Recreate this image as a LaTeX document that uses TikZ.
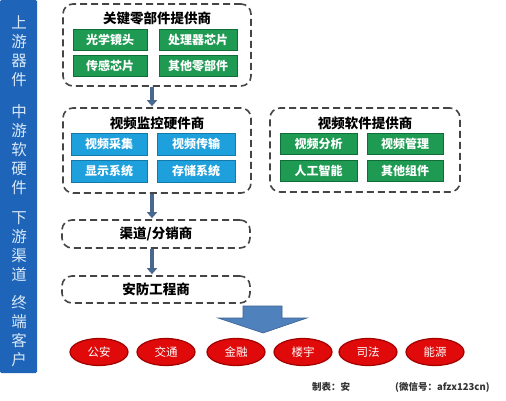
\documentclass[tikz,border=0pt]{standalone}
\usepackage{fontspec}
\newfontfamily\cjk{Noto Sans CJK SC}
\usetikzlibrary{shapes.geometric,arrows.meta,calc}
\definecolor{barblue}{HTML}{1E64B8}
\definecolor{bartext}{HTML}{D8E8F8}
\definecolor{gbox}{HTML}{1E9A52}
\definecolor{gedge}{HTML}{0F6E38}
\definecolor{bbox}{HTML}{1EA0DC}
\definecolor{bedge}{HTML}{1478A8}
\definecolor{dashc}{HTML}{454545}
\definecolor{flowc}{HTML}{4A6790}
\definecolor{bigarrow}{HTML}{4F81BD}
\definecolor{redf}{HTML}{E00A0A}
\definecolor{rede}{HTML}{A00000}
\tikzset{
  group/.style={draw=dashc, line width=1.6pt, dash pattern=on 7pt off 4pt, rounded corners=10pt, minimum width=#1, inner sep=0pt},
  title/.style={font=\cjk\bfseries\fontsize{13.5}{15}\selectfont, text=black, inner sep=0pt},
  gitem/.style={draw=gedge, fill=gbox, line width=0.8pt, text=white, font=\cjk\bfseries\fontsize{12}{14}\selectfont, minimum height=21pt, minimum width=#1, inner sep=0pt},
  bitem/.style={draw=bedge, fill=bbox, line width=0.8pt, text=white, font=\cjk\bfseries\fontsize{12}{14}\selectfont, minimum height=22pt, minimum width=#1, inner sep=0pt},
  flow/.style={draw=flowc, line width=3.5pt, -{Triangle[width=10pt,length=6pt]}},
  redell/.style={ellipse, draw=rede, line width=1.2pt, fill=redf, text=white, font=\cjk\fontsize{11.5}{13}\selectfont, minimum width=58pt, minimum height=27pt, inner sep=0pt},
  bartxt/.style={text=bartext, font=\cjk\fontsize{15.5}{19}\selectfont, align=center, inner sep=0pt},
  foot/.style={anchor=west, inner sep=0pt, text=black!80, font=\cjk\bfseries\fontsize{9.5}{11}\selectfont}
}
\begin{document}
\begin{tikzpicture}[x=1pt,y=-1pt]
\useasboundingbox (0,0) rectangle (506,401);
\fill[white] (0,0) rectangle (506,401);
% left bar
\node[fill=barblue, rounded corners=1.5pt, minimum width=37pt, minimum height=373pt, inner sep=0pt] (bar) at (18.5,186.5) {};
\node[bartxt] (b1) at (19,51.5) {上\\游\\器\\件};
\node[bartxt] (b2) at (19,150) {中\\游\\软\\硬\\件};
\node[bartxt] (b3) at (19,246.5) {下\\游\\渠\\道};
\node[bartxt] (b4) at (19,331.5) {终\\端\\客\\户};
% group 1
\node[group=188pt, minimum height=82pt] (g1) at (157,45) {};
\node[title] (t1) at (157,18) {关键零部件提供商};
\node[gitem=74pt] (g1a) at (110,39.5) {光学镜头};
\node[gitem=78pt] (g1b) at (198,39.5) {处理器芯片};
\node[gitem=74pt] (g1c) at (110,66) {传感芯片};
\node[gitem=78pt] (g1d) at (198,66) {其他零部件};
% group 2
\node[group=188pt, minimum height=85pt] (g2) at (157,150.5) {};
\node[title] (t2) at (157,123) {视频监控硬件商};
\node[bitem=76pt] (g2a) at (109,144) {视频采集};
\node[bitem=78pt] (g2b) at (196,144) {视频传输};
\node[bitem=76pt] (g2c) at (109,171) {显示系统};
\node[bitem=78pt] (g2d) at (196,171) {存储系统};
% group 3
\node[group=190pt, minimum height=84pt] (g3) at (365,150) {};
\node[title] (t3) at (365,123) {视频软件提供商};
\node[gitem=77pt] (g3a) at (318.5,144) {视频分析};
\node[gitem=76pt] (g3b) at (405,144) {视频管理};
\node[gitem=77pt] (g3c) at (318.5,171) {人工智能};
\node[gitem=76pt] (g3d) at (405,171) {其他组件};
% channel + installer
\node[group=188pt, minimum height=28pt] (g4) at (156,234) {};
\node[title] (t4) at (156,234) {渠道/分销商};
\node[group=188pt, minimum height=27pt] (g5) at (156,289.5) {};
\node[title] (t5) at (156,289.5) {安防工程商};
% flow arrows
\draw[flow] ($(g1.south)+(-5,0)$) -- ($(g2.north)+(-5,-1)$);
\draw[flow] ($(g2.south)+(-5,0)$) -- ($(g4.north)+(-4,-1)$);
\draw[flow] ($(g4.south)+(-4,0)$) -- ($(g5.north)+(-4,-1)$);
% big block arrow
\filldraw[fill=bigarrow, draw=bigarrow!75!black, line width=0.6pt]
  (243,306) -- (282,306) -- (282,318) -- (307,318) -- (263,333) -- (218,318) -- (243,318) -- cycle;
% customers
\node[redell] (c1) at (99,352) {公安};
\node[redell] (c2) at (166,352) {交通};
\node[redell] (c3) at (236,352) {金融};
\node[redell] (c4) at (303,352) {楼宇};
\node[redell] (c5) at (368,352) {司法};
\node[redell] (c6) at (435,352) {能源};
% footer
\node[foot] (f1) at (312,387) {制表：安};
\node[foot] (f2) at (395,387) {(微信号：afzx123cn)};
\end{tikzpicture}
\end{document}
